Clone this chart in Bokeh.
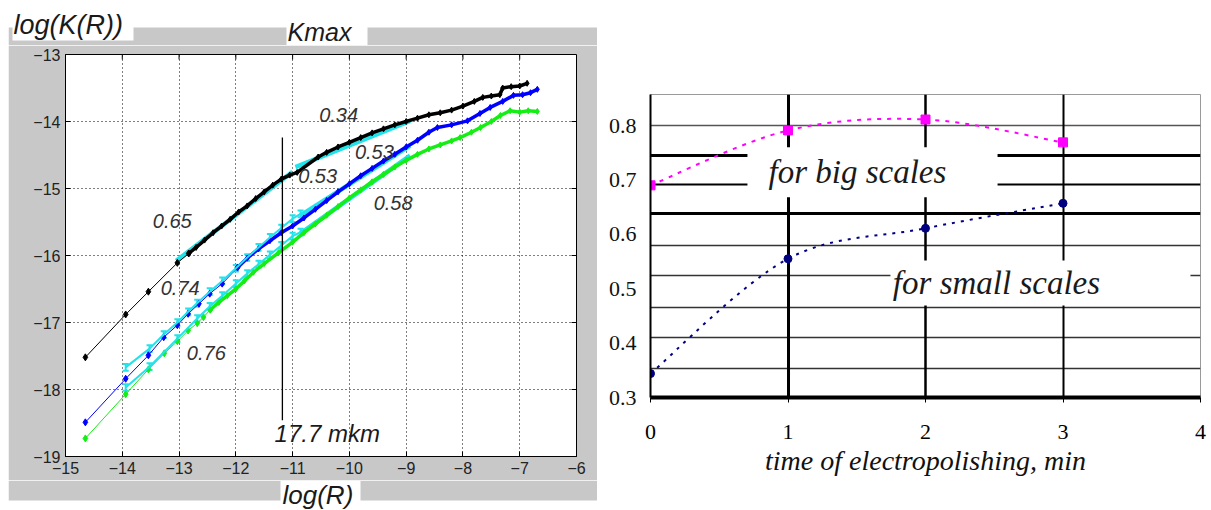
from bokeh.plotting import figure
from bokeh.models import FixedTicker, Whisker, ColumnDataSource, Range1d, Spacer
from bokeh.core.properties import value
from bokeh.layouts import row, column
from bokeh.embed import file_html
from bokeh.resources import INLINE

# ---------------- left panel data: log(K(R)) vs log(R) ----------------
black_lo_x = [-14.65, -13.94, -13.54, -13.03, -12.83]
black_lo_y = [-17.52, -16.88, -16.54, -16.11, -15.97]
black_hi_x = [-12.83, -12.7, -12.55, -12.4, -12.25, -12.1, -11.95, -11.8, -11.65, -11.5, -11.35,
              -11.2, -11.05, -10.92, -10.55, -10.4, -10.2, -10.0, -9.8, -9.6, -9.4, -9.2, -9.0,
              -8.8, -8.6, -8.4, -8.2, -8.0, -7.8, -7.65, -7.5, -7.35, -7.3, -7.15, -7.0, -6.87]
black_hi_y = [-15.97, -15.88, -15.77, -15.66, -15.56, -15.46, -15.35, -15.26, -15.15, -15.05, -14.95,
              -14.86, -14.8, -14.76, -14.53, -14.46, -14.38, -14.31, -14.24, -14.17, -14.11, -14.05, -14.0,
              -13.95, -13.9, -13.87, -13.83, -13.77, -13.7, -13.64, -13.62, -13.6, -13.5, -13.48, -13.47, -13.43]

blue_lo_x = [-14.65, -13.94, -13.54, -13.27, -13.03, -12.84, -12.65, -12.46, -12.24, -11.97]
blue_lo_y = [-18.49, -17.84, -17.49, -17.22, -17.04, -16.87, -16.72, -16.57, -16.42, -16.18]
blue_hi_x = [-11.97, -11.8, -11.6, -11.4, -11.2, -11.0, -10.8, -10.6, -10.4, -10.2, -10.0, -9.8,
             -9.6, -9.4, -9.2, -9.0, -8.8, -8.6, -8.45, -8.2, -7.92, -7.7, -7.52, -7.3, -7.11,
             -6.95, -6.81, -6.69]
blue_hi_y = [-16.18, -16.04, -15.9, -15.78, -15.66, -15.56, -15.44, -15.31, -15.18, -15.05, -14.93,
             -14.81, -14.7, -14.59, -14.49, -14.38, -14.28, -14.16, -14.09, -14.05, -13.99, -13.88,
             -13.79, -13.7, -13.61, -13.6, -13.57, -13.52]

green_lo_x = [-14.65, -13.94, -13.54, -13.26, -13.03, -12.84, -12.68, -12.57, -12.45]
green_lo_y = [-18.73, -18.07, -17.70, -17.46, -17.28, -17.12, -17.01, -16.92, -16.81]
green_hi_x = [-12.45, -12.3, -12.15, -12.0, -11.85, -11.69, -11.5, -11.25, -11.0, -10.8, -10.6,
              -10.4, -10.2, -10.0, -9.8, -9.6, -9.4, -9.2, -9.0, -8.8, -8.6, -8.4, -8.2, -8.05,
              -7.85, -7.69, -7.5, -7.34, -7.17, -7.0, -6.85, -6.69]
green_hi_y = [-16.81, -16.7, -16.6, -16.5, -16.38, -16.25, -16.12, -15.96, -15.8, -15.66, -15.53,
              -15.4, -15.27, -15.14, -15.02, -14.9, -14.79, -14.68, -14.58, -14.49, -14.41, -14.35,
              -14.29, -14.24, -14.16, -14.09, -14.0, -13.91, -13.84, -13.86, -13.84, -13.85]

# cyan error-bar series (near blue and near green)
cyan_b_x = [-13.94, -13.52, -13.27, -13.03, -12.84, -12.68, -12.46, -12.24, -12.0, -11.8, -11.6,
            -11.4, -11.2, -11.0, -10.86]
cyan_b_y = [-17.67, -17.39, -17.18, -17.0, -16.84, -16.71, -16.54, -16.38, -16.19, -16.03, -15.88,
            -15.73, -15.59, -15.45, -15.38]
cyan_g_x = [-13.94, -13.52, -13.03, -12.68, -12.46, -12.24, -12.0, -11.8, -11.6, -11.4, -11.2,
            -11.0, -10.86]
cyan_g_y = [-17.97, -17.66, -17.24, -16.94, -16.76, -16.6, -16.42, -16.27, -16.13, -15.99, -15.85,
            -15.71, -15.65]
cyan_err = 0.05

# cyan fitted straight segments (slopes shown by the numbers)
fit_x0 = [-13.05, -10.95, -10.86, -10.86]
fit_y0 = [-16.08, -14.68, -15.40, -15.67]
fit_x1 = [-11.0, -8.93, -8.93, -8.93]
fit_y1 = [-14.75, -13.99, -14.36, -14.51]

slope_text = ["0.34", "0.53", "0.53", "0.65", "0.74", "0.76", "0.58"]
slope_x = [-10.19, -9.56, -10.56, -13.12, -12.98, -12.52, -9.23]
slope_y = [-13.91, -14.46, -14.82, -15.48, -16.48, -17.45, -15.21]

mark_x = -11.18          # log(R) of 17.7 mkm
mark_y = [-14.24, -18.46]

left_xticks = [-15, -14, -13, -12, -11, -10, -9, -8, -7, -6]
left_yticks = [-19, -18, -17, -16, -15, -14, -13]

# ---------------- right panel data ----------------
time_min = [0, 1, 2, 3]
big_scales = [0.690, 0.791, 0.811, 0.769]
small_scales = [0.344, 0.555, 0.611, 0.657]
right_xticks = [0, 1, 2, 3, 4]
right_yticks = [0.3, 0.4, 0.5, 0.6, 0.7, 0.8]

grid_levels = [0.353, 0.410, 0.465, 0.524, 0.579, 0.638, 0.692, 0.745, 0.800]
grid_widths = [1.5, 1.5, 1.5, 1.5, 1.5, 3, 2, 3, 1.5]
grid_colors = ["#333333"] * 5 + ["black", "black", "black", "#555555"]
vgrid_pos = [1, 2, 3]
vgrid_widths = [3, 2.5, 2]

GRAY = "#c8c8c8"
CYAN = "#22e2ea"
SANS = "Liberation Sans"
SERIF = "Liberation Serif"
INK = "#1a1a1a"


def bare(width, height, x0, x1, y_top, y_bottom):
    """A decoration strip whose frame fills the whole canvas (page pixel coordinates)."""
    return figure(frame_width=width, frame_height=height, x_range=Range1d(x0, x1),
                  y_range=Range1d(y_bottom, y_top), x_axis_type=None, y_axis_type=None,
                  title=None, toolbar_location=None, output_backend="svg",
                  min_border=0, min_border_left=0, min_border_right=0,
                  min_border_top=0, min_border_bottom=0,
                  outline_line_color=None, background_fill_color="white",
                  border_fill_color="white")


# ---- header strip (page y 0..45): gray panel top, label boxes ----
H = bare(589, 45, 8, 597, 0, 45)
H.quad(left=[8], right=[597], top=[27], bottom=[45], fill_color=GRAY, line_color=None)
H.quad(left=[12, 286], right=[133, 367], top=[0, 18], bottom=[40, 45], fill_color="white", line_color=None)
H.text(x=[13], y=[24], text=["log(K(R))"], text_font=value(SANS), text_font_style="italic",
       text_font_size="27px", text_color=INK, text_align="left", text_baseline="middle")
H.text(x=[287], y=[31], text=["Kmax"], text_font=value(SANS), text_font_style="italic",
       text_font_size="25px", text_color=INK, text_align="left", text_baseline="middle")

# ---- footer strip (page y 480..509): gray panel bottom, log(R) box ----
F = bare(589, 29, 8, 597, 480, 509)
F.quad(left=[8], right=[597], top=[480], bottom=[500], fill_color=GRAY, line_color=None)
F.quad(left=[280], right=[360], top=[480], bottom=[509], fill_color="white", line_color=None)
F.text(x=[282], y=[494], text=["log(R)"], text_font=value(SANS), text_font_style="italic",
       text_font_size="26px", text_color=INK, text_align="left", text_baseline="middle")

# ---- main left plot ----
L = figure(frame_width=511, frame_height=402, x_range=Range1d(-15, -6), y_range=Range1d(-19, -13),
           output_backend="svg", toolbar_location=None, title=None,
           min_border_left=57, min_border_right=21, min_border_top=9, min_border_bottom=24,
           border_fill_color=GRAY, background_fill_color="white",
           outline_line_color="black", outline_line_width=1)

for ax in (L.xaxis[0], L.yaxis[0]):
    ax.major_tick_in = 5
    ax.major_tick_out = 0
    ax.minor_tick_in = 0
    ax.minor_tick_out = 0
    ax.axis_line_color = "black"
    ax.major_tick_line_color = "black"
    ax.major_label_text_font = SANS
    ax.major_label_text_font_size = "16px"
    ax.major_label_text_color = "#222222"
    ax.major_label_standoff = 5
L.xaxis.ticker = FixedTicker(ticks=left_xticks)
L.yaxis.ticker = FixedTicker(ticks=left_yticks)

L.grid.grid_line_color = "black"
L.grid.grid_line_dash = "1 3"
L.grid.grid_line_width = 1

# inward ticks on the top and right edges of the box
tick_dx = 5 / 56.8
tick_dy = 5 / 67.0
L.segment(x0=left_xticks[1:-1], y0=[-13] * 8, x1=left_xticks[1:-1], y1=[-13 - tick_dy] * 8,
          line_color="black", line_width=1)
L.segment(x0=[-6] * 5, y0=left_yticks[1:-1], x1=[-6 - tick_dx] * 5, y1=left_yticks[1:-1],
          line_color="black", line_width=1)

# cyan fits
L.segment(x0=fit_x0, y0=fit_y0, x1=fit_x1, y1=fit_y1, line_color=CYAN, line_width=4.5)

# data series
for xs, ys, col in ((black_lo_x, black_lo_y, "black"), (blue_lo_x, blue_lo_y, "#0000ff"),
                    (green_lo_x, green_lo_y, "#14ee14")):
    L.line(xs, ys, line_color=col, line_width=1)
    L.scatter(xs, ys, marker="diamond", size=7, color=col)
for xs, ys, col in ((black_hi_x, black_hi_y, "black"), (blue_hi_x, blue_hi_y, "#0000ff"),
                    (green_hi_x, green_hi_y, "#14ee14")):
    L.line(xs, ys, line_color=col, line_width=3.5)
    L.scatter(xs, ys, marker="diamond", size=6, color=col)

for xs, ys in ((cyan_b_x, cyan_b_y), (cyan_g_x, cyan_g_y)):
    src = ColumnDataSource(dict(x=xs, up=[v + cyan_err for v in ys], lo=[v - cyan_err for v in ys]))
    L.line(xs, ys, line_color=CYAN, line_width=2)
    w = Whisker(source=src, base="x", upper="up", lower="lo", line_color=CYAN, line_width=2)
    for head in (w.upper_head, w.lower_head):
        head.size = 6
        head.line_color = CYAN
        head.line_width = 2
    L.add_layout(w)

L.segment(x0=[mark_x], y0=[mark_y[0]], x1=[mark_x], y1=[mark_y[1]], line_color="black", line_width=1.3)
L.text(x=[-10.39], y=[-18.66], text=["17.7 mkm"], text_font=value(SANS), text_font_style="italic",
       text_font_size="24px", text_color=INK, text_align="center", text_baseline="middle")

L.text(x=slope_x, y=slope_y, text=slope_text, text_font=value(SANS), text_font_style="italic",
       text_font_size="20px", text_color="#333333", text_align="center", text_baseline="middle")

# wrap the strips in their own rows so their frames are not aligned with the plot frame
left_panel = column(row(H, spacing=0), L, row(F, spacing=0), spacing=0)

# =============== RIGHT FIGURE ===============
R = figure(frame_width=550, frame_height=303, x_range=Range1d(0, 4), y_range=Range1d(0.3, 0.857),
           output_backend="svg", toolbar_location=None, title=None,
           min_border_left=53, min_border_right=8, min_border_top=94, min_border_bottom=110,
           border_fill_color="white", background_fill_color="white",
           outline_line_color="#9a9a9a", outline_line_width=1)
R.grid.visible = False

R.hspan(y=grid_levels, line_width=grid_widths, line_color=grid_colors)
R.vspan(x=vgrid_pos, line_width=vgrid_widths, line_color="black")

xa = R.xaxis[0]
xa.ticker = FixedTicker(ticks=right_xticks)
xa.axis_line_width = 4
xa.axis_line_color = "black"
xa.major_tick_out = 5
xa.major_tick_in = 0
xa.minor_tick_out = 0
xa.minor_tick_in = 0
xa.major_tick_line_color = "black"
xa.major_label_text_font = SERIF
xa.major_label_text_font_size = "22px"
xa.major_label_text_color = "black"
xa.major_label_standoff = 22
xa.axis_label = "time of electropolishing, min"
xa.axis_label_text_font = SERIF
xa.axis_label_text_font_style = "italic"
xa.axis_label_text_font_size = "28px"
xa.axis_label_text_color = "#111111"
xa.axis_label_standoff = 3

ya = R.yaxis[0]
ya.ticker = FixedTicker(ticks=right_yticks)
ya.axis_line_width = 2
ya.axis_line_color = "black"
ya.major_tick_out = 0
ya.major_tick_in = 0
ya.minor_tick_out = 0
ya.minor_tick_in = 0
ya.major_label_text_font = SERIF
ya.major_label_text_font_size = "22px"
ya.major_label_text_color = "#111111"
ya.major_label_standoff = 14

# white label boxes over the grid
R.quad(left=[0.705, 1.745], right=[2.524, 3.927], bottom=[0.668, 0.469], top=[0.760, 0.552],
       fill_color="white", line_color=None)


# smoothed (Catmull-Rom) dotted curves through the measured points
def smooth(p, xs, ys, color, dash, width):
    n = len(xs)
    d = dict(x0=[], y0=[], x1=[], y1=[], cx0=[], cy0=[], cx1=[], cy1=[])
    for i in range(n - 1):
        ip = max(i - 1, 0)
        inn = min(i + 2, n - 1)
        d["x0"].append(xs[i]); d["y0"].append(ys[i])
        d["x1"].append(xs[i + 1]); d["y1"].append(ys[i + 1])
        d["cx0"].append(xs[i] + (xs[i + 1] - xs[ip]) / 6)
        d["cy0"].append(ys[i] + (ys[i + 1] - ys[ip]) / 6)
        d["cx1"].append(xs[i + 1] - (xs[inn] - xs[i]) / 6)
        d["cy1"].append(ys[i + 1] - (ys[inn] - ys[i]) / 6)
    p.bezier(source=ColumnDataSource(d), x0="x0", y0="y0", x1="x1", y1="y1",
             cx0="cx0", cy0="cy0", cx1="cx1", cy1="cy1",
             line_color=color, line_dash=dash, line_width=width)


smooth(R, time_min, big_scales, "#ff00ff", "4 6", 2)
smooth(R, time_min, small_scales, "#000080", "3 6", 2)
R.scatter(time_min, big_scales, marker="square", size=9, color="#ff00ff")
R.scatter(time_min, small_scales, marker="circle", size=8, color="#000080")

R.text(x=[1.505, 2.516], y=[0.714, 0.51], text=["for big scales", "for small scales"],
       text_font=value(SERIF), text_font_style="italic", text_font_size="33px",
       text_color=INK, text_align="center", text_baseline="middle")

layout = row(Spacer(width=8, height=509), left_panel, R, spacing=0)
open("out.html", "w").write(file_html(layout, INLINE))
